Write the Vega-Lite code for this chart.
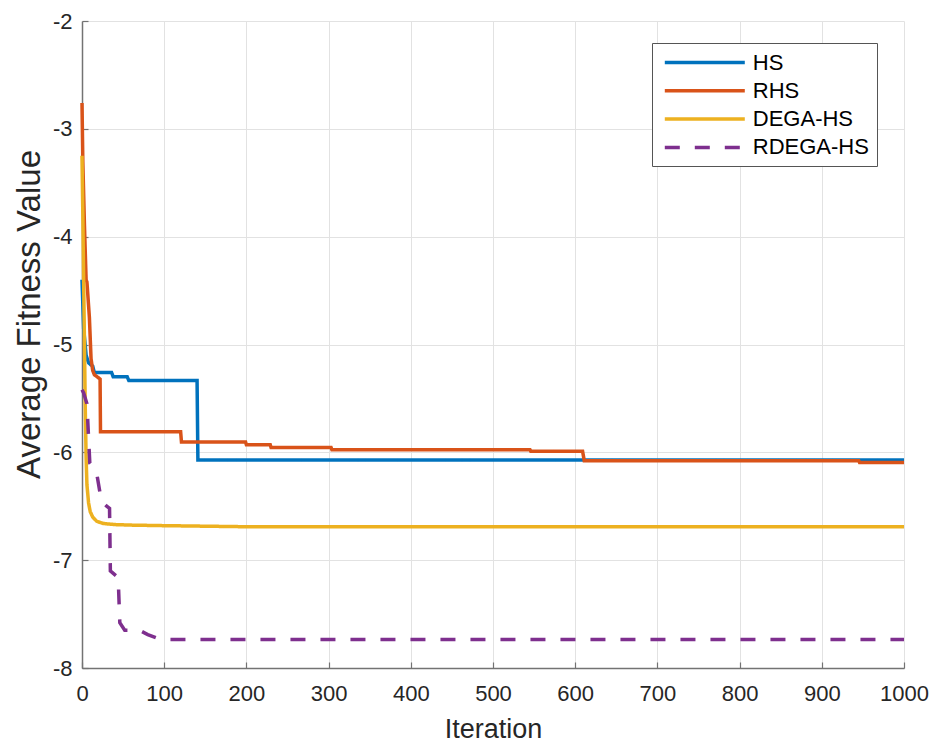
{
  "$schema": "https://vega.github.io/schema/vega-lite/v6.json",
  "width": 822,
  "height": 647,
  "autosize": "none",
  "padding": {"left": 82, "top": 21, "right": 34, "bottom": 76},
  "background": "white",
  "config": {
    "view": {"stroke": null},
    "font": "Liberation Sans",
    "axis": {
      "grid": true,
      "gridColor": "#e2e2e2",
      "gridWidth": 1,
      "domainColor": "#737373",
      "domainWidth": 1.5,
      "tickColor": "#737373",
      "tickSize": -6,
      "tickWidth": 1.2,
      "labelFont": "Liberation Sans",
      "labelFontSize": 22,
      "labelColor": "#262626",
      "titleFont": "Liberation Sans",
      "titleFontSize": 27,
      "titleFontWeight": "normal",
      "titleColor": "#262626"
    },
    "legend": {
      "orient": "none",
      "legendX": 570,
      "legendY": 22,
      "title": null,
      "symbolType": "M0,0H8",
      "symbolSize": 400,
      "symbolOffset": -6.7,
      "symbolStrokeWidth": 3.5,
      "labelFont": "Liberation Sans",
      "labelFontSize": 22,
      "labelColor": "#000000",
      "labelOffset": 76,
      "fillColor": "white",
      "strokeColor": "#555555",
      "padding": 7.5,
      "rowPadding": 5.3
    }
  },
  "data": {
    "values": [
      {"s": "HS", "x": 0, "y": -4.4, "k": 0},
      {"s": "HS", "x": 2, "y": -4.85, "k": 1},
      {"s": "HS", "x": 5, "y": -5.1, "k": 2},
      {"s": "HS", "x": 8, "y": -5.17, "k": 3},
      {"s": "HS", "x": 11, "y": -5.19, "k": 4},
      {"s": "HS", "x": 13, "y": -5.2, "k": 5},
      {"s": "HS", "x": 15, "y": -5.26, "k": 6},
      {"s": "HS", "x": 36, "y": -5.26, "k": 7},
      {"s": "HS", "x": 38, "y": -5.3, "k": 8},
      {"s": "HS", "x": 55, "y": -5.3, "k": 9},
      {"s": "HS", "x": 57, "y": -5.335, "k": 10},
      {"s": "HS", "x": 140, "y": -5.335, "k": 11},
      {"s": "HS", "x": 141, "y": -6.072, "k": 12},
      {"s": "HS", "x": 1000, "y": -6.072, "k": 13},

      {"s": "RHS", "x": 0, "y": -2.76, "k": 20},
      {"s": "RHS", "x": 1, "y": -3.3, "k": 21},
      {"s": "RHS", "x": 3, "y": -3.9, "k": 22},
      {"s": "RHS", "x": 5, "y": -4.4, "k": 23},
      {"s": "RHS", "x": 6, "y": -4.42, "k": 24},
      {"s": "RHS", "x": 9, "y": -4.75, "k": 25},
      {"s": "RHS", "x": 11, "y": -5.13, "k": 26},
      {"s": "RHS", "x": 13, "y": -5.24, "k": 27},
      {"s": "RHS", "x": 15, "y": -5.28, "k": 28},
      {"s": "RHS", "x": 22, "y": -5.32, "k": 29},
      {"s": "RHS", "x": 22.5, "y": -5.81, "k": 30},
      {"s": "RHS", "x": 120, "y": -5.81, "k": 31},
      {"s": "RHS", "x": 121, "y": -5.905, "k": 32},
      {"s": "RHS", "x": 199, "y": -5.905, "k": 33},
      {"s": "RHS", "x": 200, "y": -5.93, "k": 34},
      {"s": "RHS", "x": 229, "y": -5.93, "k": 35},
      {"s": "RHS", "x": 230, "y": -5.955, "k": 36},
      {"s": "RHS", "x": 303, "y": -5.955, "k": 37},
      {"s": "RHS", "x": 304, "y": -5.975, "k": 38},
      {"s": "RHS", "x": 545, "y": -5.975, "k": 39},
      {"s": "RHS", "x": 546, "y": -5.99, "k": 40},
      {"s": "RHS", "x": 609, "y": -5.99, "k": 41},
      {"s": "RHS", "x": 611, "y": -6.078, "k": 42},
      {"s": "RHS", "x": 945, "y": -6.078, "k": 43},
      {"s": "RHS", "x": 946, "y": -6.095, "k": 44},
      {"s": "RHS", "x": 1000, "y": -6.095, "k": 45},

      {"s": "DEGA-HS", "x": 0, "y": -3.25, "k": 50},
      {"s": "DEGA-HS", "x": 1, "y": -3.8, "k": 51},
      {"s": "DEGA-HS", "x": 2, "y": -4.4, "k": 52},
      {"s": "DEGA-HS", "x": 3, "y": -5.0, "k": 53},
      {"s": "DEGA-HS", "x": 4, "y": -5.6, "k": 54},
      {"s": "DEGA-HS", "x": 5, "y": -6.05, "k": 55},
      {"s": "DEGA-HS", "x": 6, "y": -6.3, "k": 56},
      {"s": "DEGA-HS", "x": 8, "y": -6.47, "k": 57},
      {"s": "DEGA-HS", "x": 10, "y": -6.55, "k": 58},
      {"s": "DEGA-HS", "x": 13, "y": -6.6, "k": 59},
      {"s": "DEGA-HS", "x": 18, "y": -6.64, "k": 60},
      {"s": "DEGA-HS", "x": 26, "y": -6.66, "k": 61},
      {"s": "DEGA-HS", "x": 40, "y": -6.67, "k": 62},
      {"s": "DEGA-HS", "x": 60, "y": -6.675, "k": 63},
      {"s": "DEGA-HS", "x": 100, "y": -6.68, "k": 64},
      {"s": "DEGA-HS", "x": 200, "y": -6.69, "k": 65},
      {"s": "DEGA-HS", "x": 1000, "y": -6.69, "k": 66},

      {"s": "RDEGA-HS", "x": 0, "y": -5.42, "k": 70},
      {"s": "RDEGA-HS", "x": 2, "y": -5.45, "k": 71},
      {"s": "RDEGA-HS", "x": 6, "y": -5.55, "k": 72},
      {"s": "RDEGA-HS", "x": 9.5, "y": -6.1, "k": 73},
      {"s": "RDEGA-HS", "x": 14, "y": -6.15, "k": 74},
      {"s": "RDEGA-HS", "x": 18, "y": -6.2, "k": 75},
      {"s": "RDEGA-HS", "x": 22, "y": -6.38, "k": 76},
      {"s": "RDEGA-HS", "x": 26, "y": -6.47, "k": 77},
      {"s": "RDEGA-HS", "x": 30, "y": -6.5, "k": 78},
      {"s": "RDEGA-HS", "x": 33.5, "y": -6.52, "k": 79},
      {"s": "RDEGA-HS", "x": 34.5, "y": -7.1, "k": 80},
      {"s": "RDEGA-HS", "x": 44, "y": -7.16, "k": 81},
      {"s": "RDEGA-HS", "x": 46, "y": -7.58, "k": 82},
      {"s": "RDEGA-HS", "x": 52, "y": -7.65, "k": 83},
      {"s": "RDEGA-HS", "x": 70, "y": -7.65, "k": 84},
      {"s": "RDEGA-HS", "x": 80, "y": -7.69, "k": 85},
      {"s": "RDEGA-HS", "x": 90, "y": -7.72, "k": 86},
      {"s": "RDEGA-HS", "x": 95, "y": -7.735, "k": 87},
      {"s": "RDEGA-HS", "x": 1000, "y": -7.735, "k": 88}
    ]
  },
  "mark": {"type": "line", "strokeWidth": 3.5, "strokeCap": "butt", "strokeJoin": "miter"},
  "encoding": {
    "x": {
      "field": "x",
      "type": "quantitative",
      "scale": {"domain": [0, 1000], "nice": false, "zero": false},
      "axis": {
        "values": [0, 100, 200, 300, 400, 500, 600, 700, 800, 900, 1000],
        "title": "Iteration",
        "labelExpr": "'' + datum.value",
        "labelPadding": 21,
        "labelFlush": false,
        "titleBaseline": "alphabetic",
        "titleY": 69
      }
    },
    "y": {
      "field": "y",
      "type": "quantitative",
      "scale": {"domain": [-8, -2], "nice": false, "zero": false},
      "axis": {
        "values": [-8, -7, -6, -5, -4, -3, -2],
        "title": "Average Fitness Value",
        "labelExpr": "'' + datum.value",
        "labelPadding": 16,
        "labelFlush": false,
        "titleFontSize": 33,
        "titleBaseline": "alphabetic",
        "titleAlign": "center",
        "titleX": -43,
        "titleY": 293,
        "titleAngle": -90
      }
    },
    "color": {
      "field": "s",
      "type": "nominal",
      "scale": {
        "domain": ["HS", "RHS", "DEGA-HS", "RDEGA-HS"],
        "range": ["#0072BD", "#D95319", "#EDB120", "#7E2F8E"]
      }
    },
    "strokeDash": {
      "field": "s",
      "type": "nominal",
      "scale": {
        "domain": ["HS", "RHS", "DEGA-HS", "RDEGA-HS"],
        "range": [[1, 0], [1, 0], [1, 0], [15, 15]]
      }
    },
    "order": {"field": "k", "type": "quantitative"}
  }
}
